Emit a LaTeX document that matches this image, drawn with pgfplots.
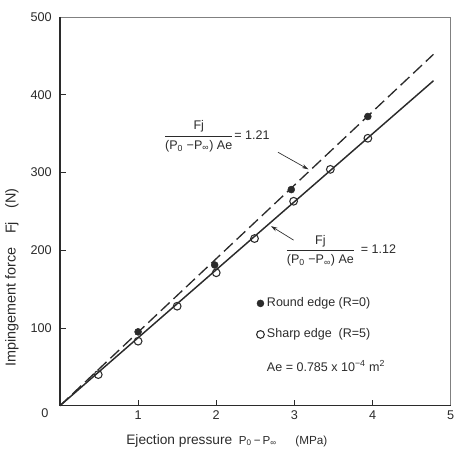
\documentclass[border=0pt]{standalone}
\usepackage{fontspec}
\setmainfont{Liberation Sans}
\usepackage{pgfplots}
\pgfplotsset{compat=1.18}
\usetikzlibrary{arrows.meta}
\definecolor{ink}{gray}{0.17}
\begin{document}
\begin{tikzpicture}
\begin{axis}[
  name=ax,
  scale only axis, width=293.25pt, height=291.75pt,
  xmin=0, xmax=5, ymin=0, ymax=500,
  clip=false,
  xtick={1,2,3,4,5}, ytick={100,200,300,400,500},
  tick align=inside, xtick pos=bottom, ytick pos=left,
  major tick length=4.5pt,
  tick style={ink, line width=0.6pt},
  axis line style={black!50, line width=0.5pt},
  /pgf/number format/assume math mode=true,
  ticklabel style={font=\fontsize{9.5}{11}\selectfont, text=ink},
  yticklabel style={xshift=-2.7pt},
  xlabel={\fontsize{10.3}{12}\selectfont Ejection pressure\hspace{5pt}{\fontsize{8.7}{10}\selectfont P\textsubscript{0}\,−\,P\textsubscript{∞}}\hspace{14pt}{\fontsize{8.8}{10}\selectfont (MPa)}},
  ylabel={\fontsize{10.8}{12}\selectfont Impingement force\hspace{10pt}Fj\hspace{10pt}(N)},
  every axis x label/.style={at={(rel axis cs:0.427,-0.09)}, anchor=center, text=ink},
  every axis y label/.style={at={(rel axis cs:-0.123,0.33)}, anchor=center, rotate=90, text=ink},
  legend image code/.code={\draw[#1] plot coordinates {(0pt,0pt)};},
  legend style={draw=none, fill=none, at={(rel axis cs:0.5026,0.285)}, anchor=north west,
    font=\fontsize{9.4}{11}\selectfont, text=ink, row sep=11pt, inner sep=0pt,
    nodes={inner sep=2pt}},
  legend cell align=left,
]
\addplot[ink, line width=1.1pt, forget plot] coordinates {(0,0) (4.78,418)};
\addplot[ink, line width=1.0pt, dash pattern=on 9pt off 4pt, forget plot] coordinates {(0,0) (4.78,452)};
\addplot[only marks, mark=*, mark size=2.6pt, mark options={fill=ink, draw=ink}]
  coordinates {(1.0,95) (1.98,181) (2.96,278) (3.94,372)};
\addlegendentry{Round edge (R=0)}
\addplot[only marks, mark=o, mark size=2.9pt, mark options={fill=white, draw=ink, line width=0.8pt}]
  coordinates {(0.49,40) (1.0,83) (1.5,128) (2.0,171) (2.49,215) (2.99,263) (3.46,304) (3.94,344)};
\addlegendentry{Sharp edge\ \ (R=5)}
\addlegendimage{empty legend}
\addlegendentry{Ae = 0.785 x 10\textsuperscript{−4} m\textsuperscript{2}}
% dark left and bottom axis lines
\draw[ink, line width=1.1pt] (rel axis cs:0,1) -- (rel axis cs:0,0) -- (rel axis cs:1,0);
% annotations
\node[anchor=west, text=ink, font=\fontsize{9.4}{11}\selectfont, inner sep=0pt] at (axis cs:1.343,346)
  {\begin{tabular}[c]{@{}c@{}}Fj\\[1pt]\hline\rule{0pt}{10pt}(P\textsubscript{0} −P\textsubscript{∞}) Ae\end{tabular}\,= 1.21};
\node[anchor=west, text=ink, font=\fontsize{9.4}{11}\selectfont, inner sep=0pt] at (axis cs:2.90,199)
  {\begin{tabular}[c]{@{}c@{}}Fj\\[1pt]\hline\rule{0pt}{10pt}(P\textsubscript{0} −P\textsubscript{∞}) Ae\end{tabular}\ \ = 1.12};
\draw[ink, line width=0.5pt, -{Stealth[length=5pt,width=3pt]}] (axis cs:2.79,326) -- (axis cs:3.18,304);
\draw[ink, line width=0.5pt, -{Stealth[length=5pt,width=3pt]}] (axis cs:2.99,213) -- (axis cs:2.70,231);
\node[text=ink, font=\fontsize{9.5}{11}\selectfont] at ([xshift=-11.25pt,yshift=-5.25pt]axis cs:0,0) {0};
\end{axis}
\pgfresetboundingbox
\path[use as bounding box] ([shift={(-45pt,-37.5pt)}]ax.south west) rectangle ([shift={(4pt,12.75pt)}]ax.north east);
\end{tikzpicture}
\end{document}
